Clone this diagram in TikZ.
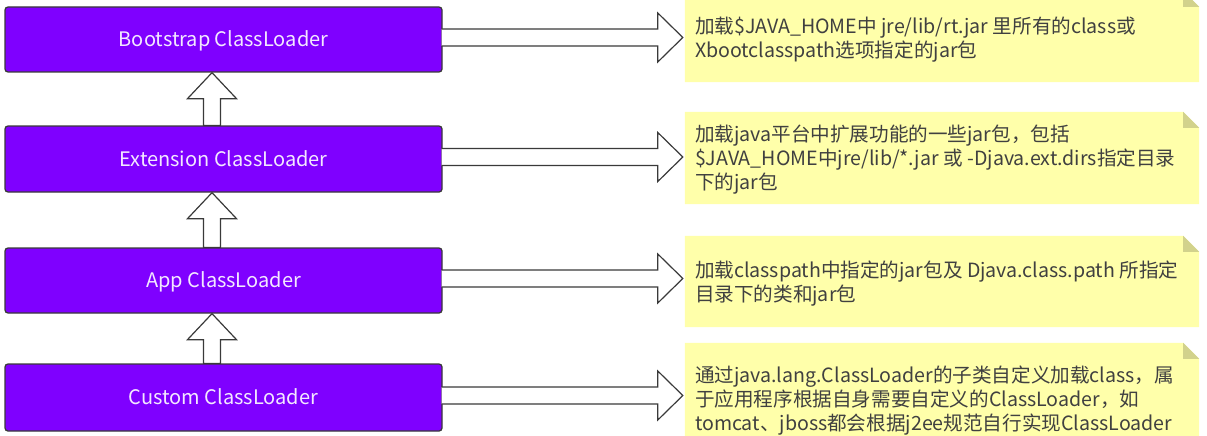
\documentclass[tikz,border=0pt]{standalone}
\usepackage{fontspec}
\setmainfont{Noto Sans CJK SC}
\usetikzlibrary{calc}
\definecolor{boxfill}{HTML}{7F00FF}
\definecolor{boxtext}{HTML}{F3E8FF}
\definecolor{notefill}{HTML}{FFFFAA}
\definecolor{notefold}{HTML}{D2D28C}
\definecolor{edgec}{HTML}{3A3A3A}
\definecolor{notetextc}{HTML}{404040}
\begin{document}
\begin{tikzpicture}[x=1pt,y=-1pt,
  cl/.style={draw=edgec, line width=1.3pt, fill=boxfill, rounded corners=3pt,
    minimum width=437pt, minimum height=65pt, inner sep=0pt, text=boxtext,
    font=\fontsize{20}{22}\selectfont, text depth=1pt},
  notebg/.style={minimum width=514pt, minimum height=91pt, inner sep=0pt},
  ntext/.style={anchor=west, align=left, inner sep=0pt, text=notetextc,
    font=\fontsize{19.6}{24}\selectfont},
  fat/.style={draw=edgec, line width=1.2pt, fill=white, line join=miter}
]
\useasboundingbox (0,0) rectangle (1207,436);

% notes (backgrounds)
\node[notebg] (n1) at (942,36.5) {};
\node[notebg, minimum height=92pt] (n2) at (942,158) {};
\node[notebg] (n3) at (942,281.5) {};
\node[notebg, minimum height=94pt] (n4) at (942,390) {};
\foreach \nt in {n1,n2,n3,n4}{
  \fill[notefill] (\nt.north west) -- ($(\nt.north east)+(-16,0)$) -- ($(\nt.north east)+(0,16)$)
    -- (\nt.south east) -- (\nt.south west) -- cycle;
  \fill[notefold] ($(\nt.north east)+(-16,0)$) -- ($(\nt.north east)+(-16,16)$)
    -- ($(\nt.north east)+(0,16)$) -- cycle;
}

% class loader boxes
\node[cl] (b1) at (223.5,39.5) {Bootstrap ClassLoader};
\node[cl, minimum height=66pt] (b2) at (223.5,159) {Extension ClassLoader};
\node[cl] (b3) at (223.5,280.5) {App ClassLoader};
\node[cl, minimum height=67pt] (b4) at (223.5,397.5) {Custom ClassLoader};

% note texts
\node[ntext] (t1) at ($(n1.west |- b1.center)+(10,0.5)$)
  {加载\$JAVA\_HOME中 jre/lib/rt.jar 里所有的class或\\Xbootclasspath选项指定的jar包};
\node[ntext] (t2) at ($(n2.west |- b2.center)+(10,0.5)$)
  {加载java平台中扩展功能的一些jar包，包括\\\$JAVA\_HOME中jre/lib/*.jar 或 -Djava.ext.dirs指定目录\\下的jar包};
\node[ntext] (t3) at ($(n3.west |- b3.center)+(10,3)$)
  {加载classpath中指定的jar包及 Djava.class.path 所指定\\目录下的类和jar包};
\node[ntext] (t4) at ($(n4.west |- b4.center)+(10,3)$)
  {通过java.lang.ClassLoader的子类自定义加载class，属\\于应用程序根据自身需要自定义的ClassLoader，如\\tomcat、jboss都会根据j2ee规范自行实现ClassLoader};

% right fat arrows (box -> note)
\foreach \bx/\nt in {b1/n1,b2/n2,b3/n3,b4/n4}{
  \draw[fat] let \p1=($(\bx.east)+(-1,-2)$), \p2=($(\nt.west)+(-2,0)$) in
    (\x1,\y1+8.5pt) -- (\x2-25pt,\y1+8.5pt) -- (\x2-25pt,\y1+24.5pt) -- (\x2,\y1)
    -- (\x2-25pt,\y1-24.5pt) -- (\x2-25pt,\y1-8.5pt) -- (\x1,\y1-8.5pt);
}

% up fat arrows (lower box -> upper box)
\foreach \ux/\lx in {b1/b2,b2/b3,b3/b4}{
  \draw[fat] let \p1=($(\ux.south)+(-11.5,0)$), \p2=(\lx.north) in
    (\x1,\y1) -- (\x1+24.5pt,\y1-26pt) -- (\x1+8.5pt,\y1-26pt) -- (\x1+8.5pt,\y2)
    -- (\x1-8.5pt,\y2) -- (\x1-8.5pt,\y1-26pt) -- (\x1-24.5pt,\y1-26pt) -- cycle;
}
\end{tikzpicture}
\end{document}
